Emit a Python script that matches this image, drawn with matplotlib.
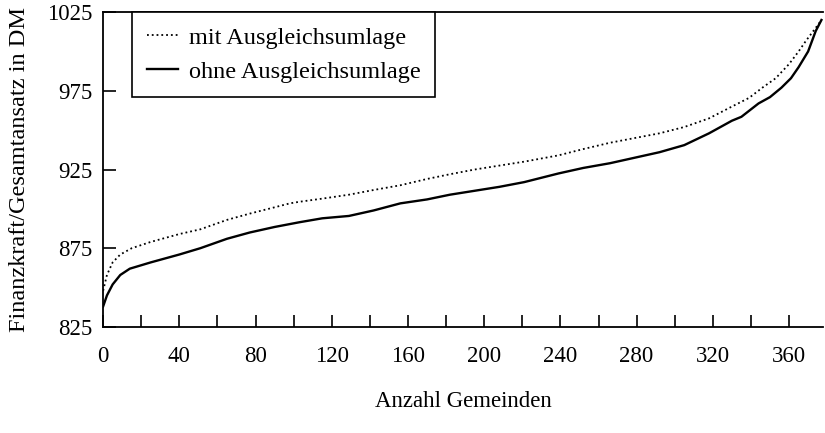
import matplotlib.pyplot as plt
from matplotlib.ticker import MultipleLocator

plt.rcParams['font.family'] = ['Liberation Serif', 'DejaVu Serif']

# Werte
gem_mit = [0, 2, 5, 9, 15, 25, 40, 51, 65, 77, 90, 98, 103, 115, 129, 142, 156,
           170, 182, 195, 208, 221, 239, 252, 266, 279, 292, 305, 318, 330, 339,
           346, 353, 360, 365, 369, 374, 377]
wert_mit = [848, 858, 866, 871, 875, 879, 884, 887, 893, 897, 901, 903.5, 904.5,
            906.5, 909, 912, 915, 919, 922, 925, 927.5, 930, 934, 938, 942, 945,
            948, 952, 957.5, 965, 970.5, 977, 983, 992, 1000, 1007, 1015, 1020]

gem_ohne = [0, 2, 5, 9, 14, 25, 40, 51, 65, 77, 90, 103, 115, 129, 142, 156, 170,
            182, 195, 208, 221, 239, 252, 266, 279, 292, 305, 318, 330, 335, 344,
            350, 356, 361, 365, 370, 374, 377]
wert_ohne = [838, 845, 852, 858, 862, 866, 871, 875, 881, 885, 888.5, 891.5, 894,
             895.5, 899, 903.5, 906, 909, 911.5, 914, 917, 922.5, 926, 929, 932.5,
             936, 940.5, 948, 956, 958.5, 967, 971, 977, 983, 990, 1000, 1013, 1020]

fig = plt.figure(figsize=(8.25, 4.33), dpi=100)
ax = fig.add_axes([0.125, 0.245, 0.873, 0.727])

ax.plot(gem_mit, wert_mit, color='black', linestyle=':', linewidth=1.3,
        label='mit Ausgleichsumlage')
ax.plot(gem_ohne, wert_ohne, color='black', linestyle='-', linewidth=1.7,
        label='ohne Ausgleichsumlage')

ax.set_xlim(0, 378)
ax.set_ylim(825, 1025)
ax.set_yticks([825, 875, 925, 975, 1025])
ax.xaxis.set_major_locator(MultipleLocator(40))
ax.xaxis.set_minor_locator(MultipleLocator(20))
ax.tick_params(axis='both', which='both', direction='in', length=9, width=1.2,
               labelsize=16.5)
ax.tick_params(axis='y', pad=8)
ax.tick_params(axis='x', pad=14)
ax.spines['right'].set_visible(False)
for s in ['left', 'top', 'bottom']:
    ax.spines[s].set_linewidth(1.3)

ax.set_ylabel('Finanzkraft/Gesamtansatz in DM', fontsize=17.5, labelpad=12)
ax.set_xlabel('Anzahl Gemeinden', fontsize=16.5, labelpad=17)

leg = ax.legend(loc='upper left', bbox_to_anchor=(0.04, 1.0), borderaxespad=0,
                fontsize=17.5, handlelength=1.3, handletextpad=0.45,
                fancybox=False, framealpha=1, edgecolor='black',
                borderpad=0.6, labelspacing=0.5)
leg.get_frame().set_linewidth(1.2)

fig.savefig('out.png', dpi=100)
